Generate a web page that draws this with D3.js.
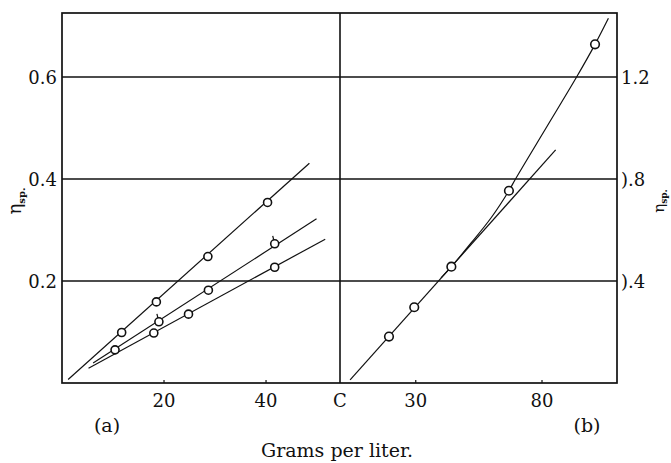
<!DOCTYPE html>
<html>
<head>
<meta charset="utf-8">
<script src="https://cdn.jsdelivr.net/npm/d3@7"></script>
<style>
    body { margin: 0; background: #fff; }
    svg { display: block; }
</style>
</head>
<body>
<script>
/*
 Specific viscosity vs concentration -- two panels, (a) and (b).
 */
(function () {
    'use strict';

    // panel (a) -- three series, measured points
    var a1X = [11.7, 18.5, 28.6, 40.3],
        a1Y = [0.099, 0.159, 0.248, 0.354],
        a2X = [10.4, 19.0, 28.7, 41.7],
        a2Y = [0.065, 0.120, 0.182, 0.273],
        a3X = [18.0, 24.8, 41.7],
        a3Y = [0.098, 0.135, 0.227];

    // panel (a) -- drawn straight lines (start, end)
    var a1FitX = [1.2, 48.5],
        a1FitY = [0.007, 0.431],
        a2FitX = [6.1, 49.9],
        a2FitY = [0.039, 0.322],
        a3FitX = [5.2, 51.6],
        a3FitY = [0.029, 0.282];

    // points carrying a small flag mark (series 2)
    var a2FlagX = [19.0, 41.7],
        a2FlagY = [0.120, 0.273];

    // panel (b) -- measured points, straight line and curve
    var bX = [19.4, 29.4, 44.1, 66.9, 101.0],
        bY = [0.182, 0.297, 0.456, 0.754, 1.328],
        bFitX = [4.0, 85.4],
        bFitY = [0.012, 0.914],
        bCurveX = [40, 44.1, 52, 60, 66.9, 69.5, 81.9, 93.7, 101.0, 106.3],
        bCurveY = [0.412, 0.456, 0.55, 0.65, 0.754, 0.80, 1.005, 1.20, 1.328, 1.43];

    // ticks
    var aXTicks = [20, 40],
        aXLabels = ['20', '40'],
        bXTicks = [0, 30, 80],
        bXLabels = ['C', '30', '80'],
        aYTicks = [0.2, 0.4, 0.6],
        aYLabels = ['0.2', '0.4', '0.6'],
        bYTicks = [0.4, 0.8, 1.2],
        bYLabels = [').4', ').8', '1.2'];

    // layout
    var W = 671, H = 463,
        left = 62, right = 617, mid = 340, top = 13, bottom = 383,
        serif = 'DejaVu Serif';

    var xa = d3.scaleLinear().domain([0, 54.5]).range([left, mid]),
        xb = d3.scaleLinear().domain([0, 109.7]).range([mid, right]),
        ya = d3.scaleLinear().domain([0, 0.7255]).range([bottom, top]),
        yb = d3.scaleLinear().domain([0, 1.451]).range([bottom, top]);

    var svg = d3.select('body').append('svg')
        .attr('width', W)
        .attr('height', H)
        .style('font-family', serif)
        .attr('fill', '#111');

    function zip(xs, ys) {
        return xs.map(function (x, i) { return [x, ys[i]]; });
    }

    // gridlines across both panels
    svg.append('g').selectAll('line')
        .data(aYTicks)
        .enter().append('line')
        .attr('x1', left).attr('x2', right)
        .attr('y1', function (d) { return ya(d); })
        .attr('y2', function (d) { return ya(d); })
        .attr('stroke', '#111')
        .attr('stroke-width', 1.6);

    // small ticks on the bottom edge
    function bottomTicks(scale, ticks) {
        svg.append('g').selectAll('line')
            .data(ticks.filter(function (d) { return d > 0; }))
            .enter().append('line')
            .attr('x1', function (d) { return scale(d); })
            .attr('x2', function (d) { return scale(d); })
            .attr('y1', bottom).attr('y2', bottom - 3)
            .attr('stroke', '#111')
            .attr('stroke-width', 1.2);
    }
    bottomTicks(xa, aXTicks);
    bottomTicks(xb, bXTicks);

    // frame and divider
    svg.append('rect')
        .attr('x', left).attr('y', top)
        .attr('width', right - left).attr('height', bottom - top)
        .attr('fill', 'none')
        .attr('stroke', '#111')
        .attr('stroke-width', 1.7);
    svg.append('line')
        .attr('x1', mid).attr('x2', mid)
        .attr('y1', top).attr('y2', bottom)
        .attr('stroke', '#111')
        .attr('stroke-width', 1.6);

    function drawLine(xs, ys, sx, sy, curve) {
        var gen = d3.line()
            .x(function (d) { return sx(d[0]); })
            .y(function (d) { return sy(d[1]); });
        if (curve) {
            gen.curve(curve);
        }
        svg.append('path')
            .datum(zip(xs, ys))
            .attr('d', gen)
            .attr('fill', 'none')
            .attr('stroke', '#111')
            .attr('stroke-width', 1.2);
    }

    function drawPoints(xs, ys, sx, sy, r) {
        svg.append('g').selectAll('circle')
            .data(zip(xs, ys))
            .enter().append('circle')
            .attr('cx', function (d) { return sx(d[0]); })
            .attr('cy', function (d) { return sy(d[1]); })
            .attr('r', r)
            .attr('fill', '#fff')
            .attr('stroke', '#111')
            .attr('stroke-width', 1.6);
    }

    drawLine(a1FitX, a1FitY, xa, ya);
    drawLine(a2FitX, a2FitY, xa, ya);
    drawLine(a3FitX, a3FitY, xa, ya);
    drawLine(bFitX, bFitY, xb, yb);
    drawLine(bCurveX, bCurveY, xb, yb, d3.curveCatmullRom);

    drawPoints(a1X, a1Y, xa, ya, 4);
    drawPoints(a2X, a2Y, xa, ya, 4);
    drawPoints(a3X, a3Y, xa, ya, 4);
    drawPoints(bX, bY, xb, yb, 4.3);

    // little flags above two points of series 2
    svg.append('g').selectAll('line')
        .data(zip(a2FlagX, a2FlagY))
        .enter().append('line')
        .attr('x1', function (d) { return xa(d[0]) - 1; })
        .attr('x2', function (d) { return xa(d[0]) - 2; })
        .attr('y1', function (d) { return ya(d[1]) - 4; })
        .attr('y2', function (d) { return ya(d[1]) - 8; })
        .attr('stroke', '#111')
        .attr('stroke-width', 1.2);

    // tick labels
    function xLabels(scale, ticks, labels) {
        svg.append('g').selectAll('text')
            .data(ticks)
            .enter().append('text')
            .attr('x', function (d) { return scale(d); })
            .attr('y', 407)
            .attr('text-anchor', 'middle')
            .attr('font-size', 18)
            .text(function (d, i) { return labels[i]; });
    }
    xLabels(xa, aXTicks, aXLabels);
    xLabels(xb, bXTicks, bXLabels);

    svg.append('g').selectAll('text')
        .data(aYTicks)
        .enter().append('text')
        .attr('x', 57)
        .attr('y', function (d) { return ya(d) + 6.5; })
        .attr('text-anchor', 'end')
        .attr('font-size', 18)
        .text(function (d, i) { return aYLabels[i]; });

    svg.append('g').selectAll('text')
        .data(bYTicks)
        .enter().append('text')
        .attr('x', 621)
        .attr('y', function (d) { return yb(d) + 6.5; })
        .attr('text-anchor', 'start')
        .attr('font-size', 18)
        .text(function (d, i) { return bYLabels[i]; });

    // eta_sp. axis titles
    function etaLabel(x, y, big, small) {
        var t = svg.append('text')
            .attr('transform', 'translate(' + x + ',' + y + ') rotate(-90)')
            .attr('text-anchor', 'middle')
            .attr('font-size', big);
        t.append('tspan').text('η');
        t.append('tspan')
            .attr('dy', big * 0.2)
            .attr('font-size', small)
            .attr('font-weight', 'bold')
            .text('sp.');
    }
    etaLabel(21, 201, 18, 10);
    etaLabel(664, 201, 15, 9);

    // panel tags and common x title
    svg.append('text')
        .attr('x', 107).attr('y', 432)
        .attr('text-anchor', 'middle')
        .attr('font-size', 19)
        .text('(a)');
    svg.append('text')
        .attr('x', 587).attr('y', 432)
        .attr('text-anchor', 'middle')
        .attr('font-size', 19)
        .text('(b)');
    svg.append('text')
        .attr('x', 337).attr('y', 457)
        .attr('text-anchor', 'middle')
        .attr('font-size', 19)
        .text('Grams per liter.');
}());
</script>
</body>
</html>
